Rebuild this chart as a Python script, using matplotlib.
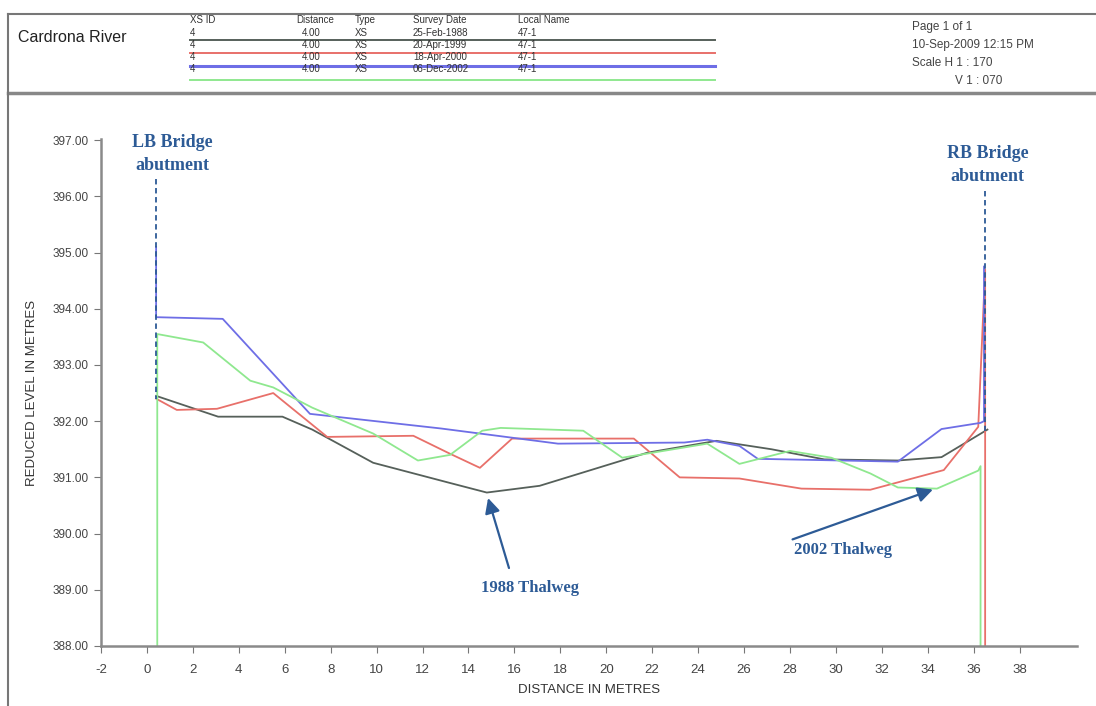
import matplotlib
matplotlib.use("Agg")
import matplotlib.pyplot as plt
from matplotlib.lines import Line2D

# cross-section surveys: (distance, reduced level)
dist_1988 = [0.40, 3.1, 5.9, 7.2, 9.85, 13.2, 14.8, 17.1, 21.8, 24.8, 27.2, 29.5, 32.7, 34.6, 36.6]
rl_1988 = [392.45, 392.08, 392.08, 391.85, 391.26, 390.9, 390.73, 390.85, 391.44, 391.65, 391.5, 391.32, 391.3, 391.36, 391.85]

dist_1999 = [0.40, 1.3, 3.05, 5.5, 7.85, 11.6, 13.2, 14.5, 15.9, 21.2, 23.2, 25.8, 28.5, 31.5, 34.7, 36.2, 36.5, 36.5]
rl_1999 = [392.40, 392.2, 392.22, 392.5, 391.72, 391.74, 391.42, 391.17, 391.69, 391.69, 391.0, 390.98, 390.8, 390.78, 391.13, 391.9, 394.7, 388.0]

dist_2000 = [0.40, 0.40, 3.3, 7.1, 12.8, 17.9, 23.4, 24.4, 25.8, 26.6, 32.7, 34.6, 36.3, 36.45, 36.45]
rl_2000 = [395.10, 393.85, 393.82, 392.13, 391.87, 391.6, 391.62, 391.67, 391.56, 391.33, 391.28, 391.86, 391.97, 392.0, 394.75]

dist_2002 = [0.45, 0.45, 2.45, 4.5, 5.5, 7.2, 9.85, 11.8, 13.2, 14.6, 15.4, 19.0, 20.7, 24.4, 25.8, 28.0, 29.8, 31.5, 32.7, 34.4, 36.2, 36.3, 36.3]
rl_2002 = [388.0, 393.55, 393.4, 392.72, 392.6, 392.24, 391.78, 391.3, 391.4, 391.83, 391.88, 391.83, 391.35, 391.6, 391.24, 391.47, 391.35, 391.07, 390.82, 390.8, 391.12, 391.2, 388.0]

survey_dates = ["25-Feb-1988", "20-Apr-1999", "18-Apr-2000", "06-Dec-2002"]
series_colors = ["#56605a", "#e8706a", "#6e6ee6", "#8fe88f"]

x_ticks = list(range(-2, 40, 2))
y_ticks = list(range(388, 398))

fig = plt.figure(figsize=(10.96, 7.06), dpi=100)
plt.rcParams['font.family'] = ['Liberation Sans', 'DejaVu Sans']

# header frame
W, H = 1096, 706
def hline(y, x0, x1, color, lw):
    fig.add_artist(Line2D([x0 / W, x1 / W], [1 - y / H, 1 - y / H], color=color, lw=lw))

hline(14, 8, 1096, "#777777", 1.5)
hline(93, 8, 1096, "#888888", 2.5)
fig.add_artist(Line2D([8 / W, 8 / W], [0, 1 - 14 / H], color="#777777", lw=1.5))

fig.text(18 / W, 1 - 38 / H, "Cardrona River", fontsize=11.5, va="center", color="#222222")

hdr_x = [190, 296, 355, 413, 518]
for x, t in zip(hdr_x, ["XS ID", "Distance", "Type", "Survey Date", "Local Name"]):
    fig.text(x / W, 1 - 20 / H, t, fontsize=7, va="center", color="#333333")

row_y = [33, 45, 57, 69]
line_y = [40, 53, 66, 80]
for i, date in enumerate(survey_dates):
    vals = ["4", "4.00", "XS", date, "47-1"]
    xs = [190, 302, 355, 413, 518]
    for x, t in zip(xs, vals):
        fig.text(x / W, 1 - row_y[i] / H, t, fontsize=7, va="center", color="#333333")
    hline(line_y[i], 190, 715, series_colors[i], 2.2 if i == 2 else 1.4)

info = ["Page 1 of 1", "10-Sep-2009 12:15 PM", "Scale H 1 : 170"]
for k, t in enumerate(info):
    fig.text(912 / W, 1 - (27 + 18 * k) / H, t, fontsize=8.5, va="center", color="#444444")
fig.text(955 / W, 1 - 81 / H, "V 1 : 070", fontsize=8.5, va="center", color="#444444")

# plot area
ax = fig.add_axes([101 / W, 60 / H, 976 / W, 507 / H])
ax.set_xlim(-2, 40.5)
ax.set_ylim(388, 397.02)

for d, r, c in zip([dist_1988, dist_1999, dist_2000, dist_2002],
                   [rl_1988, rl_1999, rl_2000, rl_2002], series_colors):
    ax.plot(d, r, color=c, lw=1.3)

for s in ["top", "right"]:
    ax.spines[s].set_visible(False)
for s in ["left", "bottom"]:
    ax.spines[s].set_color("#8a8a8a")
    ax.spines[s].set_linewidth(1.8)

ax.set_xticks(x_ticks)
ax.set_xticklabels([str(v) for v in x_ticks])
ax.set_yticks(y_ticks)
ax.set_yticklabels([f"{v:.2f}" for v in y_ticks])
ax.tick_params(axis="both", colors="#777777", labelcolor="#444444", length=5)
ax.tick_params(axis="x", labelsize=9.5, pad=8)
ax.tick_params(axis="y", labelsize=8.5, pad=4)

ax.set_xlabel("DISTANCE IN METRES", fontsize=9.5, color="#333333", labelpad=6)
ax.set_ylabel("REDUCED LEVEL IN METRES", fontsize=9.5, color="#333333", labelpad=10)

# annotations
note = "#2d5b96"
serif = ['Liberation Serif', 'DejaVu Serif']
ax.text(1.1, 396.75, "LB Bridge\nabutment", ha="center", va="center", fontsize=13,
        fontweight="bold", color=note, family=serif, linespacing=1.45)
ax.plot([0.4, 0.4], [396.3, 392.4], color=note, lw=1.3, ls=(0, (3, 2)))

ax.text(36.6, 396.55, "RB Bridge\nabutment", ha="center", va="center", fontsize=13,
        fontweight="bold", color=note, family=serif, linespacing=1.45)
ax.plot([36.5, 36.5], [396.1, 391.83], color=note, lw=1.3, ls=(0, (3, 2)))

arrow = dict(arrowstyle="-|>,head_length=0.9,head_width=0.45", color=note, lw=1.6)
ax.annotate("", xy=(14.82, 390.68), xytext=(15.8, 389.34), arrowprops=arrow)
ax.text(16.7, 389.04, "1988 Thalweg", ha="center", va="center", fontsize=12,
        fontweight="bold", color=note, family=serif)
ax.annotate("", xy=(34.34, 390.8), xytext=(28.0, 389.88), arrowprops=arrow)
ax.text(30.3, 389.7, "2002 Thalweg", ha="center", va="center", fontsize=12,
        fontweight="bold", color=note, family=serif)

fig.savefig("out.png", dpi=100)
